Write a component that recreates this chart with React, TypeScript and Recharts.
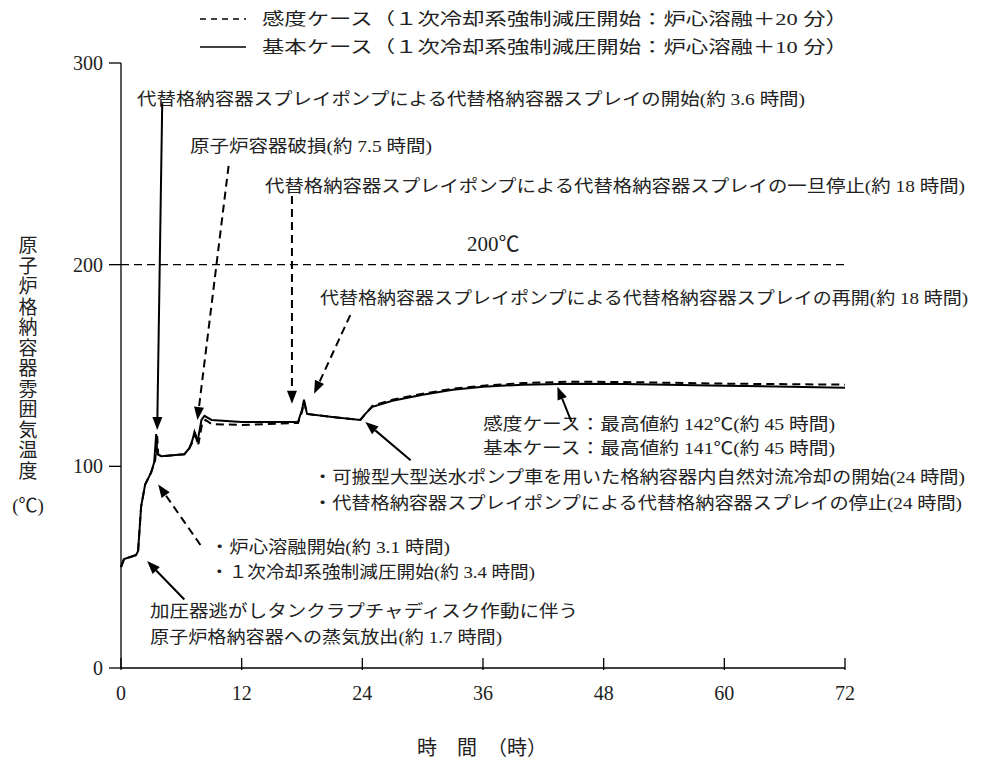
import { LineChart, Line, XAxis, YAxis, ReferenceLine } from 'recharts';

const xTicks = [0, 12, 24, 36, 48, 60, 72];
const yTicks = [0, 100, 200, 300];

// 基本ケース (solid)
const baseHours = [0, 0.3, 1.5, 1.7, 2.0, 2.4, 3.0, 3.3, 3.5, 3.6, 4.0, 6.3, 6.8, 7.1, 7.3, 7.6, 8.0, 8.3, 9.0, 12, 17.6, 18.0, 18.2, 18.5, 21, 23.8, 24.3, 25, 27, 30, 33, 36, 40, 45, 50, 60, 72];
const baseTemps = [50, 54, 56, 58, 80, 91, 97, 102, 116, 106, 105, 106, 109, 113, 117, 112, 123, 125, 123, 122, 122, 128, 133, 126, 124.5, 123, 126, 129.5, 132.5, 135.5, 138, 139.5, 140.5, 141, 140.8, 140, 139];

// 感度ケース (dashed)
const sensHours = [0, 0.3, 1.5, 1.7, 2.0, 2.4, 3.0, 3.4, 3.6, 3.7, 4.0, 6.3, 6.8, 7.1, 7.4, 7.7, 8.1, 8.4, 9.0, 12, 17.6, 18.0, 18.2, 18.5, 21, 23.8, 24.3, 25, 27, 30, 33, 36, 40, 45, 50, 60, 72];
const sensTemps = [50, 54, 56, 58, 80, 91, 97, 103, 115, 106, 105, 106, 109, 112, 116, 111, 122, 123, 121, 120.5, 121.5, 127, 132, 126, 124.5, 123, 126, 130, 133, 136, 138.5, 140, 141.3, 142, 141.8, 141, 140.5];

const seriesNames = [
  '感度ケース（１次冷却系強制減圧開始：炉心溶融＋20 分）',
  '基本ケース（１次冷却系強制減圧開始：炉心溶融＋10 分）',
];

const limitTemp = 200;
const yTitleChars = ['原', '子', '炉', '格', '納', '容', '器', '雰', '囲', '気', '温', '度'];

// arrows: tail (t, °C) -> head (t, °C)
const arrowTailT = [4.1, 10.7, 17.0, 22.8, 28.8, 44.8, 7.9, 6.3];
const arrowTailV = [280, 249, 234, 175, 103, 122, 61, 34];
const arrowHeadT = [3.6, 7.6, 17.0, 19.2, 24.3, 43.4, 3.7, 2.6];
const arrowHeadV = [118, 123, 131, 136, 122, 139.5, 91, 53];
const arrowDashed = [false, true, true, true, false, false, true, false];

const FONT = '"Liberation Serif", "Noto Sans CJK JP", serif';

// text: [label, x, baseline, width]
const notes: [string, number, number, number][] = [
  ['代替格納容器スプレイポンプによる代替格納容器スプレイの開始(約 3.6 時間)', 137, 105, 668],
  ['原子炉容器破損(約 7.5 時間)', 190, 152, 242],
  ['代替格納容器スプレイポンプによる代替格納容器スプレイの一旦停止(約 18 時間)', 265, 192, 700],
  ['代替格納容器スプレイポンプによる代替格納容器スプレイの再開(約 18 時間)', 320, 304, 648],
  ['感度ケース：最高値約 142℃(約 45 時間)', 483, 430, 352],
  ['基本ケース：最高値約 141℃(約 45 時間)', 483, 454, 352],
  ['・可搬型大型送水ポンプ車を用いた格納容器内自然対流冷却の開始(24 時間)', 313, 483, 652],
  ['・代替格納容器スプレイポンプによる代替格納容器スプレイの停止(24 時間)', 313, 509, 649],
  ['・炉心溶融開始(約 3.1 時間)', 210, 553, 240],
  ['・１次冷却系強制減圧開始(約 3.4 時間)', 210, 578, 325],
  ['加圧器逃がしタンクラプチャディスク作動に伴う', 150, 617, 428],
  ['原子炉格納容器への蒸気放出(約 1.7 時間)', 150, 643, 352],
];

const baseData = baseHours.map((t, i) => ({ t, v: baseTemps[i] }));
const sensData = sensHours.map((t, i) => ({ t, v: sensTemps[i] }));

function Arrow(props: any) {
  const { x1, y1, x2, y2, dashed } = props;
  const ang = Math.atan2(y2 - y1, x2 - x1);
  const len = 13;
  const half = 5;
  const bx = x2 - len * Math.cos(ang);
  const by = y2 - len * Math.sin(ang);
  const px = -Math.sin(ang) * half;
  const py = Math.cos(ang) * half;
  return (
    <g>
      <line x1={x1} y1={y1} x2={bx} y2={by} stroke="#000" strokeWidth={2} strokeDasharray={dashed ? '8 5' : undefined} />
      <polygon points={`${x2},${y2} ${bx + px},${by + py} ${bx - px},${by - py}`} fill="#000" />
    </g>
  );
}

function XTick(props: any) {
  const { x, y, payload } = props;
  return (
    <g>
      <line x1={x} y1={y} x2={x} y2={y - 12} stroke="#000" strokeWidth={1.3} />
      <text x={x} y={y + 30} textAnchor="middle" fontFamily={FONT} fontSize={20} fill="#222">
        {payload.value}
      </text>
    </g>
  );
}

export default function App() {
  return (
    <div style={{ position: 'absolute', left: 0, top: 0, width: 982, height: 772, background: '#fff' }}>
      <LineChart width={982} height={772} margin={{ top: 63, right: 137, bottom: 103, left: 120 }}>
        <XAxis
          type="number"
          dataKey="t"
          domain={[0, 72]}
          ticks={xTicks}
          tickSize={0}
          tickLine={false}
          tick={<XTick />}
          axisLine={{ stroke: '#000', strokeWidth: 1.3 }}
          height={1}
        />
        <YAxis
          type="number"
          dataKey="v"
          domain={[0, 300]}
          ticks={yTicks}
          tickSize={12}
          tickMargin={6}
          tickLine={{ stroke: '#000', strokeWidth: 1.3 }}
          axisLine={{ stroke: '#000', strokeWidth: 1.3 }}
          tick={{ fontFamily: FONT, fontSize: 20, fill: '#222' }}
          width={1}
        />
        <ReferenceLine y={limitTemp} stroke="#000" strokeWidth={1.2} strokeDasharray="8 5" />
        <Line data={sensData} dataKey="v" name={seriesNames[0]} type="linear" stroke="#000" strokeWidth={2} strokeDasharray="8 5" dot={false} isAnimationActive={false} />
        <Line data={baseData} dataKey="v" name={seriesNames[1]} type="linear" stroke="#000" strokeWidth={2} dot={false} isAnimationActive={false} />
        {arrowTailT.map((t, i) => (
          <ReferenceLine
            key={'a' + i}
            segment={[{ x: t, y: arrowTailV[i] }, { x: arrowHeadT[i], y: arrowHeadV[i] }]}
            ifOverflow="visible"
            shape={(p: any) => <Arrow {...p} dashed={arrowDashed[i]} />}
          />
        ))}

        {/* legend */}
        <line x1={200} y1={19} x2={246} y2={19} stroke="#000" strokeWidth={1.5} strokeDasharray="6 5" />
        <text x={262} y={25} fontFamily={FONT} fontSize={17} fill="#222" textLength={586} lengthAdjust="spacingAndGlyphs">
          {seriesNames[0]}
        </text>
        <line x1={200} y1={47} x2={246} y2={47} stroke="#000" strokeWidth={1.5} />
        <text x={262} y={53} fontFamily={FONT} fontSize={17} fill="#222" textLength={586} lengthAdjust="spacingAndGlyphs">
          {seriesNames[1]}
        </text>

        {/* annotations */}
        {notes.map(([s, x, y, w], i) => (
          <text key={'n' + i} x={x} y={y} fontFamily={FONT} fontSize={17} fill="#222" textLength={w} lengthAdjust="spacingAndGlyphs">
            {s}
          </text>
        ))}
        <text x={467} y={251} fontFamily={FONT} fontSize={21} fill="#222">200℃</text>

        {/* y axis title */}
        {yTitleChars.map((c, i) => (
          <text key={'y' + i} x={28} y={252 + i * 20.5} textAnchor="middle" fontFamily={FONT} fontSize={19} fill="#222">
            {c}
          </text>
        ))}
        <text x={28} y={512} textAnchor="middle" fontFamily={FONT} fontSize={19} fill="#222">(℃)</text>

        {/* x axis title */}
        <text x={482} y={755} textAnchor="middle" fontFamily={FONT} fontSize={20} fill="#222">時　間　（時）</text>
      </LineChart>
    </div>
  );
}
